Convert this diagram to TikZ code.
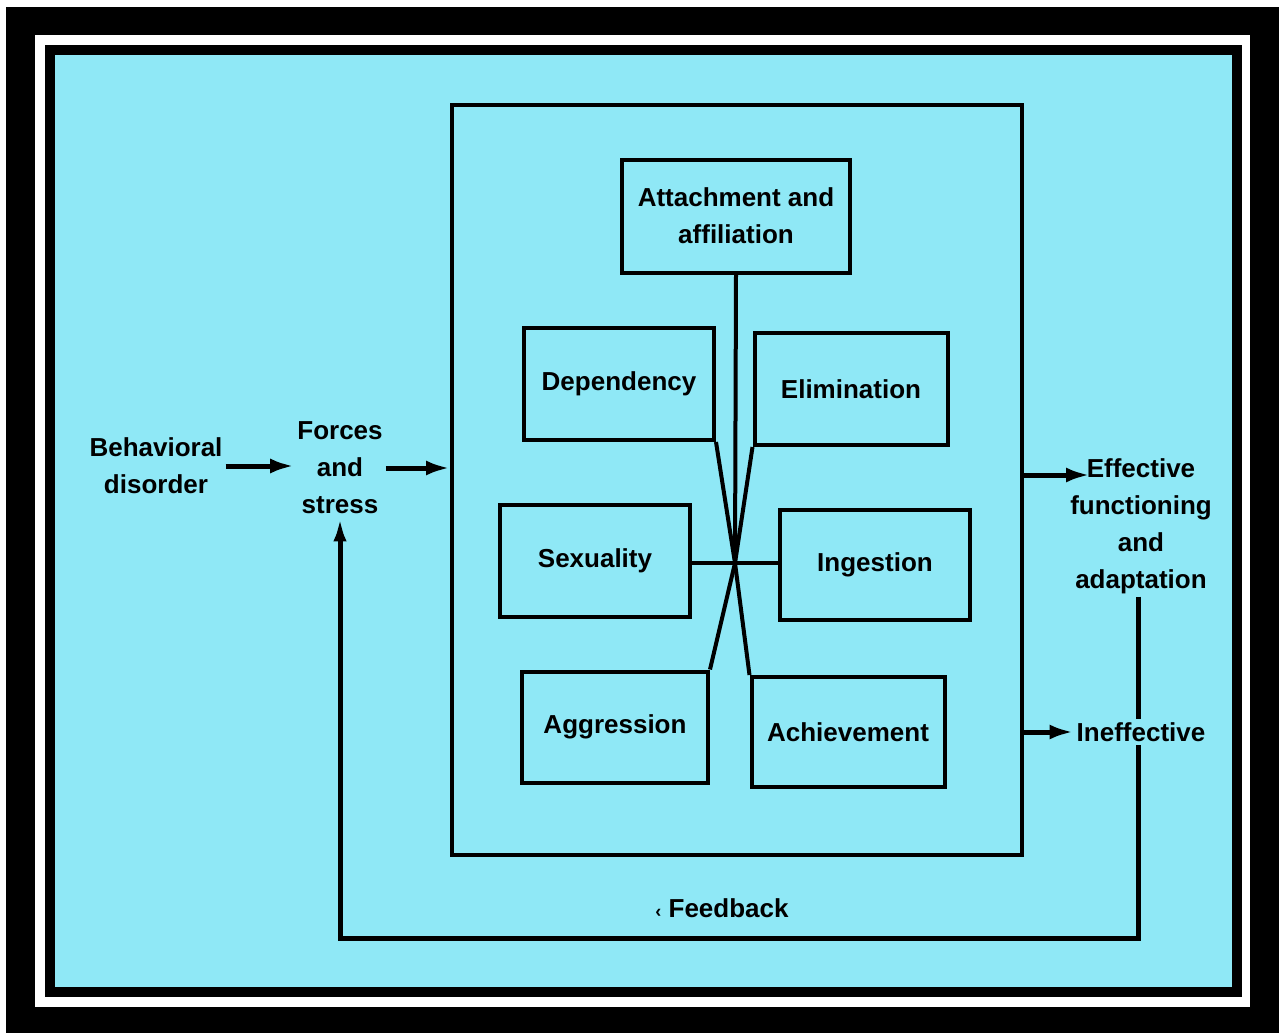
\documentclass[tikz,border=0pt]{standalone}
\usepackage{fontspec}
\setmainfont{Liberation Sans}
\usetikzlibrary{arrows.meta}
\definecolor{bgcyan}{RGB}{143,232,246}
\tikzset{
  lbl/.style={font=\bfseries\fontsize{26}{37}\selectfont, align=center, inner sep=3pt},
  box/.style={draw=black, line width=4pt, lbl},
  link/.style={line width=4pt},
  arr/.style={line width=5pt, -{Latex[length=24pt,width=15pt]}},
}
\begin{document}
\begin{tikzpicture}[x=1pt,y=-1pt]
\useasboundingbox (0,0) rectangle (1288,1033);
\fill[white] (0,0) rectangle (1288,1033);
\fill[black] (6,7) rectangle (1279,1033);
\fill[white] (35,35) rectangle (1250,1007);
\fill[black] (45,45) rectangle (1242,997);
\fill[bgcyan] (55,55) rectangle (1232,987);

% big box
\node[draw=black, line width=4pt, minimum width=570pt, minimum height=750pt, inner sep=0pt] (big) at (737,480) {};

% inner boxes
\node[box, minimum width=228pt, minimum height=113pt] (att) at (736,216) {Attachment and\\affiliation};
\node[box, minimum width=190pt, minimum height=112pt] (dep) at (619,384) {Dependency};
\node[box, minimum width=193pt, minimum height=112pt] (eli) at (851,389) {Elimination};
\node[box, minimum width=190pt, minimum height=112pt] (sex) at (595,561) {Sexuality};
\node[box, minimum width=190pt, minimum height=110pt] (ing) at (875,565) {Ingestion};
\node[box, minimum width=186pt, minimum height=111pt] (agg) at (615,727) {Aggression};
\node[box, minimum width=193pt, minimum height=110pt] (ach) at (848,732) {Achievement};

\coordinate (c) at (735,563);
\draw[link] (att.south) -- (c);
\draw[link] (dep.south east) -- (c);
\draw[link] (eli.south west) -- (c);
\draw[link] (agg.north east) -- (c);
\draw[link] (ach.north west) -- (c);
\draw[link] (sex.east |- c) -- (c) -- (ing.west |- c);

% left side
\node[lbl] (beh) at (156,466) {Behavioral\\disorder};
\node[lbl] (forces) at (340,468) {Forces\\and\\stress};
\draw[arr] (beh.east) -- (forces.west |- beh.east);
\draw[arr] (forces.east) -- (big.west |- forces.east);

% right side
\node[lbl, anchor=north] (eff) at (1141,455) {Effective\\functioning\\and\\adaptation};
\coordinate (effin) at (1090,475);
\draw[arr] (big.east |- effin) -- (effin);
\node[lbl] (ineff) at (1141,732) {Ineffective};
\draw[arr] (big.east |- ineff.west) -- (ineff.west);

% feedback
\coordinate (fb1) at (1138,938);
\coordinate (fb2) at (340,938);
\draw[line width=5pt] (eff.south -| fb1) -- (ineff.north -| fb1);
\draw[line width=5pt, -{Latex[length=24pt,width=13pt]}] (ineff.south -| fb1) -- (fb1) -- (fb2) -- (forces.south);
\node[lbl] (fbl) at (722,908) {{\fontsize{18}{18}\selectfont ‹} Feedback};
\end{tikzpicture}
\end{document}
